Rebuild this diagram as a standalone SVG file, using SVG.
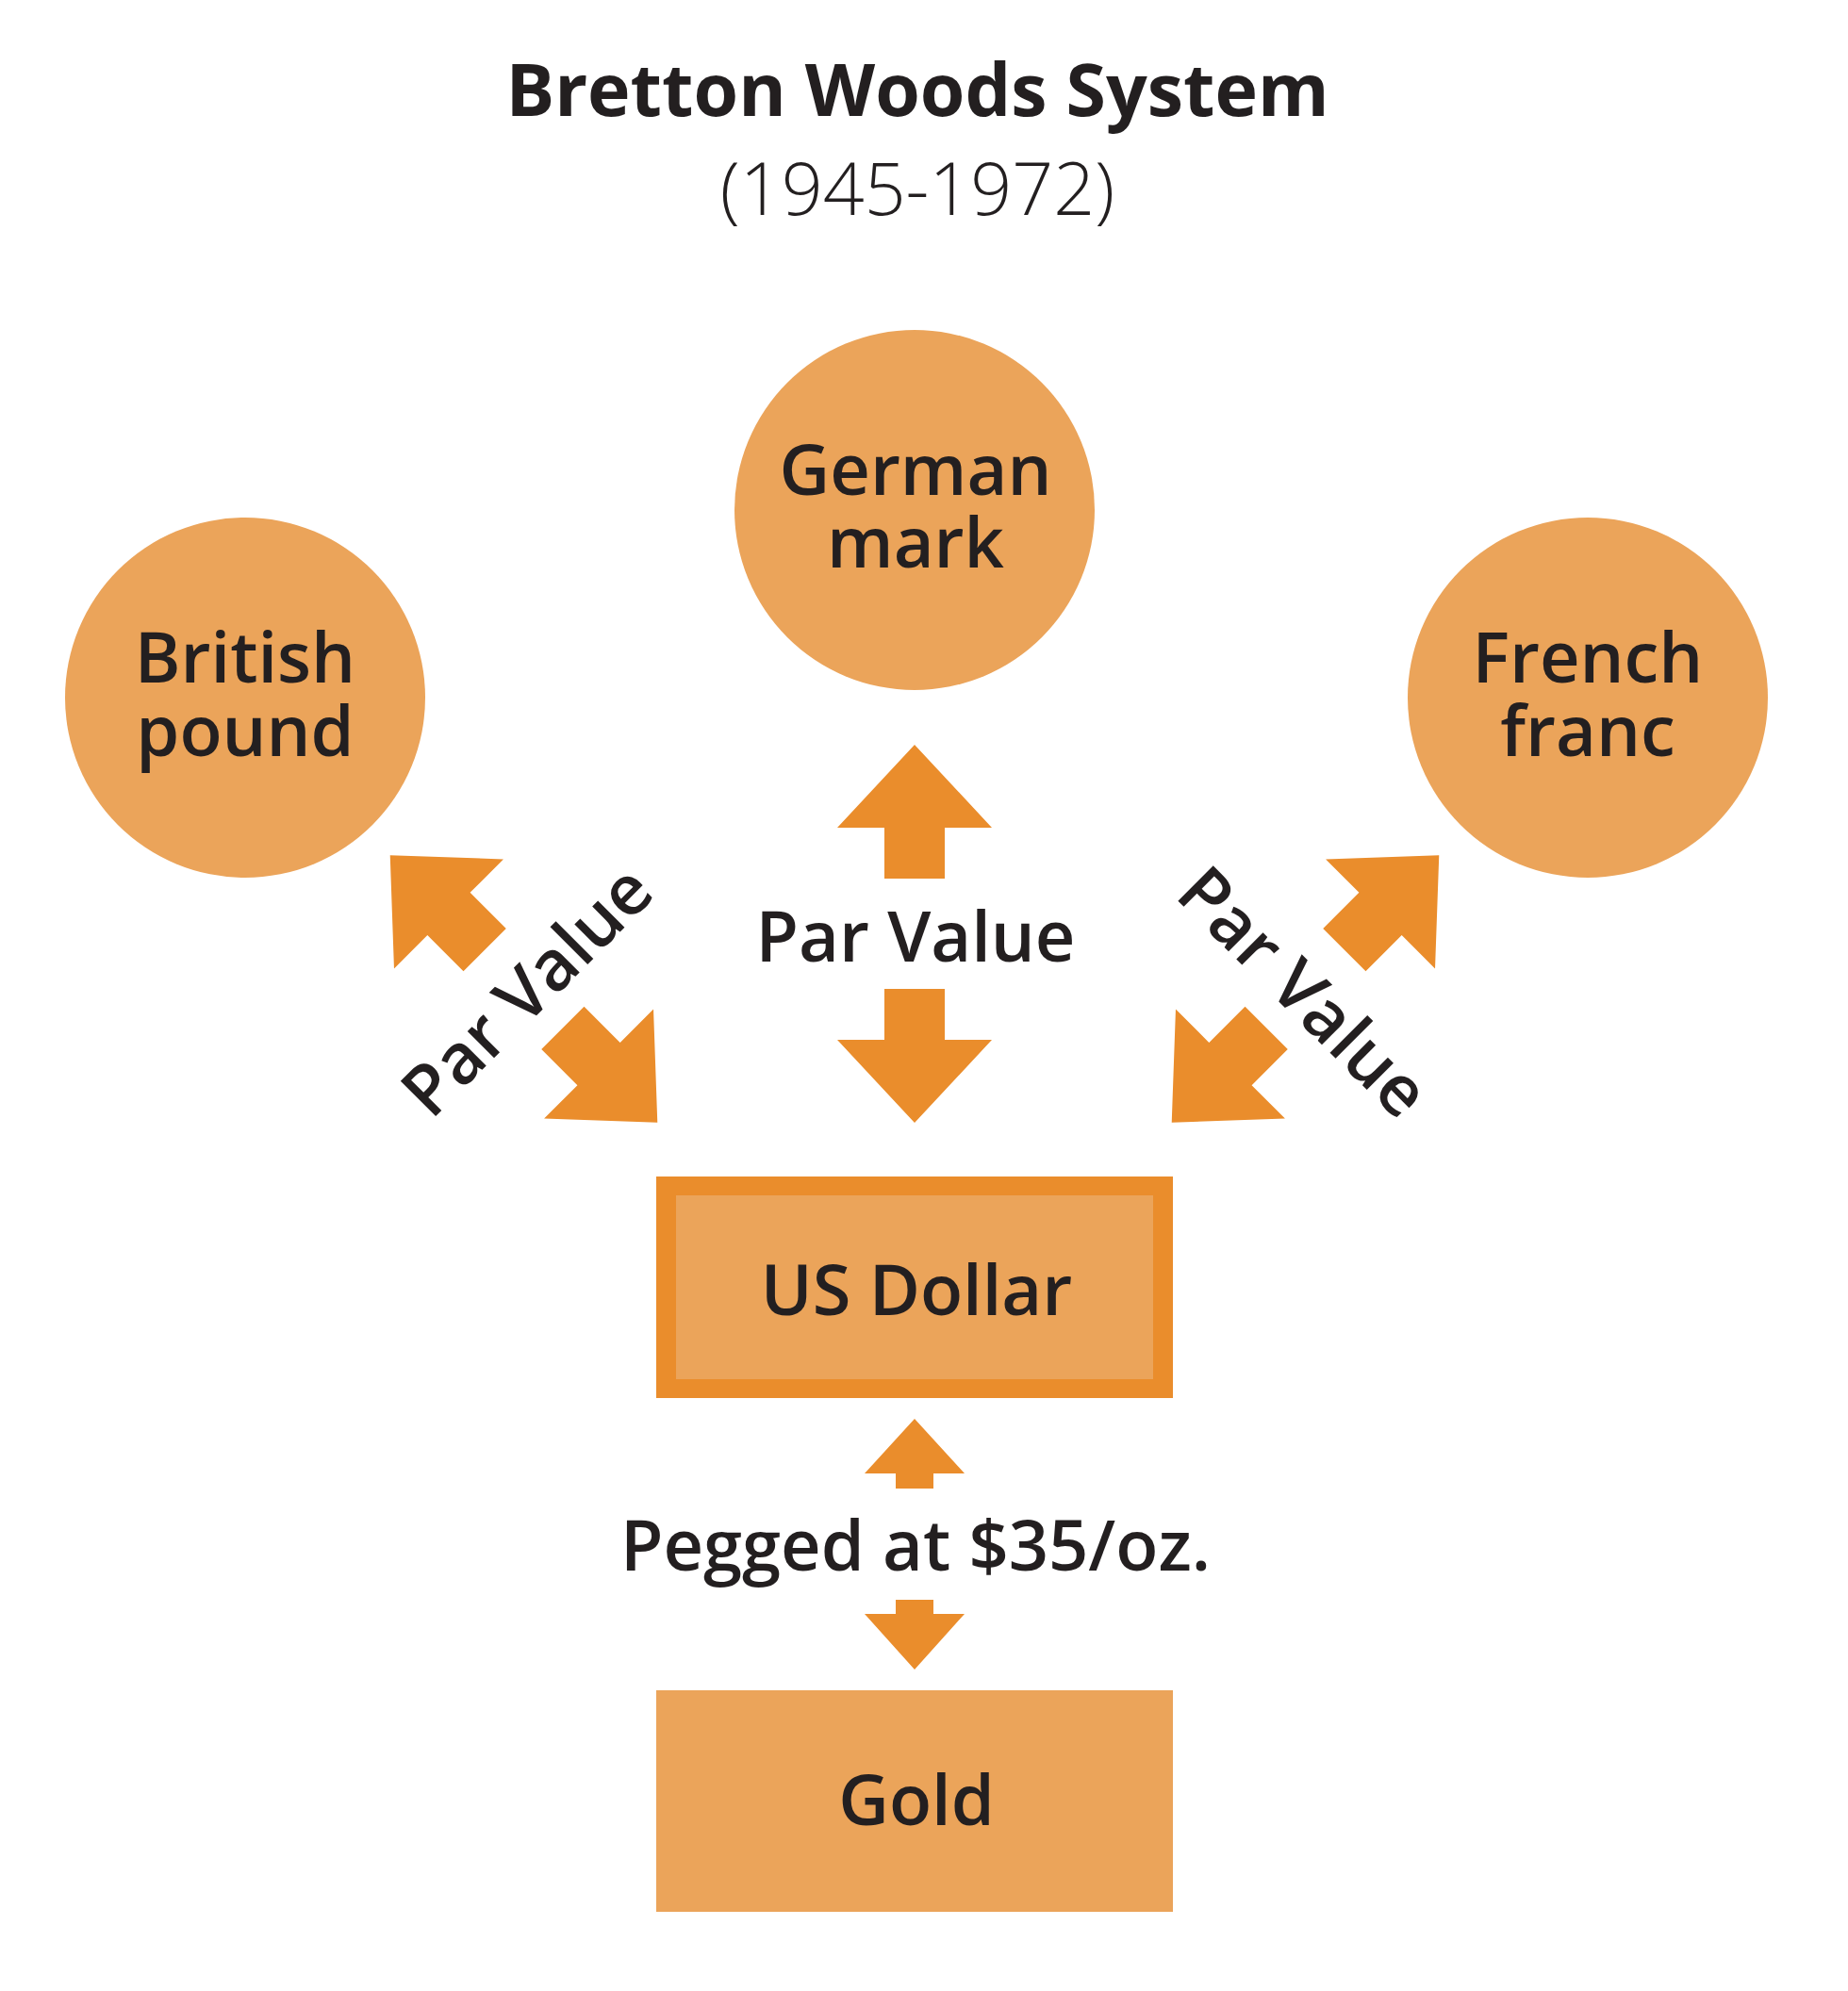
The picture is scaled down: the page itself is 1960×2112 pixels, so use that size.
<svg xmlns="http://www.w3.org/2000/svg" xmlns:xlink="http://www.w3.org/1999/xlink" width="1960" height="2112" viewBox="0 0 1960 2112">
  <style>
    .bg { fill: #ffffff; }
    .node { fill: #EBA45A; }
    .arrow { fill: #EA8D2C; }
    .border { fill: #EA8D2C; }
    text { font-family: "Open Sans", "Noto Sans", "Liberation Sans", sans-serif; fill: #231F20; text-anchor: middle; }
    .lbl { font-size: 74px; font-weight: 600; }
    .title { font-size: 77px; font-weight: 700; }
    .sub { font-size: 77px; font-weight: 300; }
  </style>
  <defs>
    <path id="bigPair" d="M0,-200.5 L82,-112.5 L32,-112.5 L32,-58.5 L-32,-58.5 L-32,-112.5 L-82,-112.5 Z M0,200.5 L82,112.5 L32,112.5 L32,58.5 L-32,58.5 L-32,112.5 L-82,112.5 Z"/>
  </defs>
  <rect class="bg" x="0" y="0" width="1960" height="2112"/>

  <g id="title">
    <text class="title" x="973" y="123">Bretton Woods System</text>
    <text class="sub" x="973" y="228">(1945-1972)</text>
  </g>

  <g id="connectors">
    <g id="conn-german" transform="translate(970,990.5)">
      <use xlink:href="#bigPair" class="arrow"/>
      <text class="lbl" x="1" y="29.5">Par Value</text>
    </g>
    <g id="conn-british" transform="translate(555.5,1049) rotate(-45)">
      <use xlink:href="#bigPair" class="arrow"/>
      <text class="lbl" x="1" y="29.5">Par Value</text>
    </g>
    <g id="conn-french" transform="translate(1384.5,1049) rotate(45)">
      <use xlink:href="#bigPair" class="arrow"/>
      <text class="lbl" x="1" y="29.5">Par Value</text>
    </g>
    <g id="conn-gold">
      <path class="arrow" d="M970,1505 L1023,1563 L990,1563 L990,1579 L950,1579 L950,1563 L917,1563 Z"/>
      <path class="arrow" d="M970,1771 L1023,1712 L990,1712 L990,1697 L950,1697 L950,1712 L917,1712 Z"/>
      <text class="lbl" x="971" y="1666">Pegged at $35/oz.</text>
    </g>
  </g>

  <g id="node-german">
    <circle class="node" cx="970" cy="541" r="191"/>
    <text class="lbl" x="971" y="525">German</text>
    <text class="lbl" x="971" y="602">mark</text>
  </g>
  <g id="node-british">
    <circle class="node" cx="260" cy="740" r="191"/>
    <text class="lbl" x="260" y="724">British</text>
    <text class="lbl" x="260" y="802">pound</text>
  </g>
  <g id="node-french">
    <circle class="node" cx="1684" cy="740" r="191"/>
    <text class="lbl" x="1684" y="724">French</text>
    <text class="lbl" x="1684" y="802">franc</text>
  </g>
  <g id="node-usd">
    <rect class="border" x="696" y="1248" width="548" height="235"/>
    <rect class="node" x="717" y="1268" width="506" height="195"/>
    <text class="lbl" x="972" y="1395">US Dollar</text>
  </g>
  <g id="node-gold">
    <rect class="node" x="696" y="1793" width="548" height="235"/>
    <text class="lbl" x="972" y="1936">Gold</text>
  </g>
</svg>
